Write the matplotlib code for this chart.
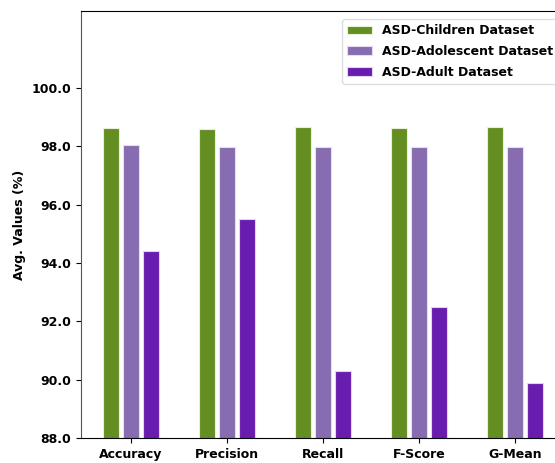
import matplotlib.pyplot as plt
import numpy as np

metrics = ['Accuracy', 'Precision', 'Recall', 'F-Score', 'G-Mean']
children = [98.63, 98.59, 98.66, 98.63, 98.66]
adolescent = [98.04, 97.98, 97.98, 97.98, 97.98]
adult = [94.41, 95.51, 90.30, 92.49, 89.89]
yticks = [88.0, 90.0, 92.0, 94.0, 96.0, 98.0, 100.0]

x = np.arange(len(metrics))
off = 0.208
w = 0.17

fig = plt.figure(figsize=(5.55, 4.63), dpi=100)
ax = fig.add_axes([81/555, 25/463, 484/555, 427/463])

ax.bar(x - off, children, w, color='#658E22', edgecolor='#e8f0dc', lw=0.8, label='ASD-Children Dataset')
ax.bar(x, adolescent, w, color='#866CB0', edgecolor='#e6def0', lw=0.8, label='ASD-Adolescent Dataset')
ax.bar(x + off, adult, w, color='#691DAE', edgecolor='#e2d4f0', lw=0.8, label='ASD-Adult Dataset')

ax.set_ylim(88, 102.64)
ax.set_xlim(-0.52, 4.52)
ax.set_yticks(yticks)
ax.set_yticklabels(['%.1f' % t for t in yticks], fontweight='bold', fontsize=9)
ax.set_xticks(x)
ax.set_xticklabels(metrics, fontweight='bold', fontsize=9)
ax.set_ylabel('Avg. Values (%)', fontweight='bold', fontsize=9)
ax.spines['left'].set_color('#555555')

fig.legend(loc='upper left', bbox_to_anchor=(336/555, 1 - 13/463),
           prop={'weight': 'bold', 'size': 9}, framealpha=1, edgecolor='#dddddd',
           labelspacing=0.62, handlelength=1.95, handletextpad=0.8)

plt.savefig('out.png', dpi=100)
